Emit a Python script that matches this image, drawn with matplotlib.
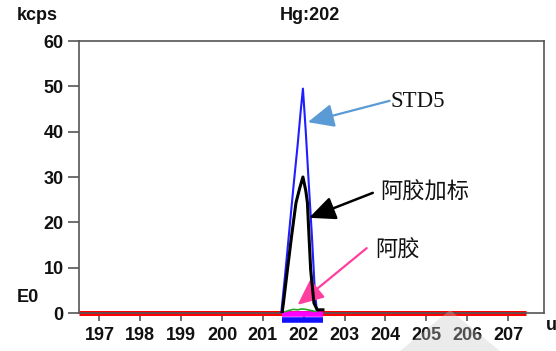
import matplotlib.pyplot as plt
from matplotlib.patches import Polygon

plt.rcParams['font.family'] = ['Liberation Sans', 'DejaVu Sans']

# mass axis (u) and traces in kcps
std5_mass = [201.45, 201.55, 201.65, 201.75, 201.85, 201.92, 201.98,
             202.05, 202.12, 202.2, 202.27, 202.32]
std5_kcps = [0, 9, 18.5, 28, 37, 44, 49.5,
             40, 29, 17, 5, 0.5]

spike_mass = [201.47, 201.5, 201.6, 201.7, 201.81, 201.9, 201.98,
              202.05, 202.09, 202.13, 202.17, 202.25, 202.33, 202.47]
spike_kcps = [0, 2, 9.5, 16.8, 24.3, 27.5, 30,
              27, 24.3, 16.8, 9.5, 2.2, 0.7, 0.7]

sample_mass = [201.55, 201.65, 201.75, 201.85, 201.95, 202.05, 202.15, 202.3]
sample_kcps = [0.3, 0.6, 0.8, 0.7, 0.9, 0.8, 0.6, 0.3]

baseline_mass = [196.5, 207.45]
baseline_kcps = [0, 0]

window_mass = [201.46, 202.47]

xticks = [197, 198, 199, 200, 201, 202, 203, 204, 205, 206, 207]
yticks = [0, 10, 20, 30, 40, 50, 60]

fig = plt.figure(figsize=(5.56, 3.51), dpi=100)
ax = fig.add_axes([79/556, 1 - 313/351, 465/556, 272/351])

ax.plot(baseline_mass, baseline_kcps, color='#ff0000', lw=3.6, clip_on=False,
        solid_capstyle='butt', zorder=2)
ax.plot(std5_mass, std5_kcps, color='#1f1fff', lw=1.5, zorder=3)
ax.plot(spike_mass, spike_kcps, color='#000000', lw=2.2, zorder=4)
ax.plot(sample_mass, sample_kcps, color='#22aa22', lw=1.2, zorder=5)

# integration window markers under the axis
ax.plot(window_mass, [-0.33, -0.33], color='#ff00ff', lw=4, clip_on=False,
        solid_capstyle='butt', zorder=3)
ax.plot(window_mass, [-1.55, -1.55], color='#1010ff', lw=4, clip_on=False,
        solid_capstyle='butt', zorder=3)

ax.set_xlim(196.5, 207.88)
ax.set_ylim(0, 60)
ax.set_xticks(xticks)
ax.set_yticks(yticks)
ax.tick_params(axis='y', direction='out', length=8, width=1.2, color='#555555',
               pad=3, labelsize=13)
ax.tick_params(axis='x', direction='out', length=6, width=1.2, color='#555555',
               pad=4, labelsize=13)
for lab in ax.get_xticklabels() + ax.get_yticklabels():
    lab.set_fontweight('bold')
    lab.set_color('#111111')
for s in ax.spines.values():
    s.set_color('#555555')
    s.set_linewidth(1.2)

arrow = '-|>,head_length=1.0,head_width=0.45'

# annotations
ax.annotate('', xy=(202.10, 42.1), xytext=(204.10, 46.8),
            arrowprops=dict(arrowstyle=arrow, mutation_scale=16,
                            color='#5b9bd5', lw=1.6, shrinkA=0, shrinkB=0))
ax.text(204.12, 46.6, 'STD5', family='Liberation Serif', fontsize=16.5,
        ha='left', va='center', color='#111111')

ax.annotate('', xy=(202.13, 21.0), xytext=(203.69, 26.5),
            arrowprops=dict(arrowstyle=arrow, mutation_scale=16,
                            color='#000000', lw=1.8, shrinkA=0, shrinkB=0))
ax.text(203.86, 26.7, '阿胶加标', family=['Noto Sans CJK SC'], fontsize=16,
        ha='left', va='center', color='#111111')

ax.annotate('', xy=(201.85, 1.8), xytext=(203.54, 14.3),
            arrowprops=dict(arrowstyle=arrow, mutation_scale=16,
                            color='#ff3ea0', lw=1.6, shrinkA=0, shrinkB=0))
ax.text(203.74, 13.9, '阿胶', family=['Noto Sans CJK SC'], fontsize=16,
        ha='left', va='center', color='#111111')

# corner labels
fig.text(17/556, 1 - 15/351, 'kcps', fontsize=13, fontweight='bold',
         ha='left', va='center', color='#111111')
fig.text(310/556, 1 - 15/351, 'Hg:202', fontsize=13, fontweight='bold',
         ha='center', va='center', color='#111111')
fig.text(17/556, 1 - 297/351, 'E0', fontsize=13, fontweight='bold',
         ha='left', va='center', color='#111111')
fig.text(546/556, 1 - 325/351, 'u', fontsize=13, fontweight='bold',
         ha='left', va='center', color='#111111')

# faint grey triangle near the bottom edge
tri = Polygon([(400/556, 0), (450/556, 1 - 310/351), (500/556, 0)],
              closed=True, transform=fig.transFigure, facecolor='#c8c8c8',
              edgecolor='none', alpha=0.35, zorder=10)
fig.patches.append(tri)

fig.savefig('out.png', dpi=100)
